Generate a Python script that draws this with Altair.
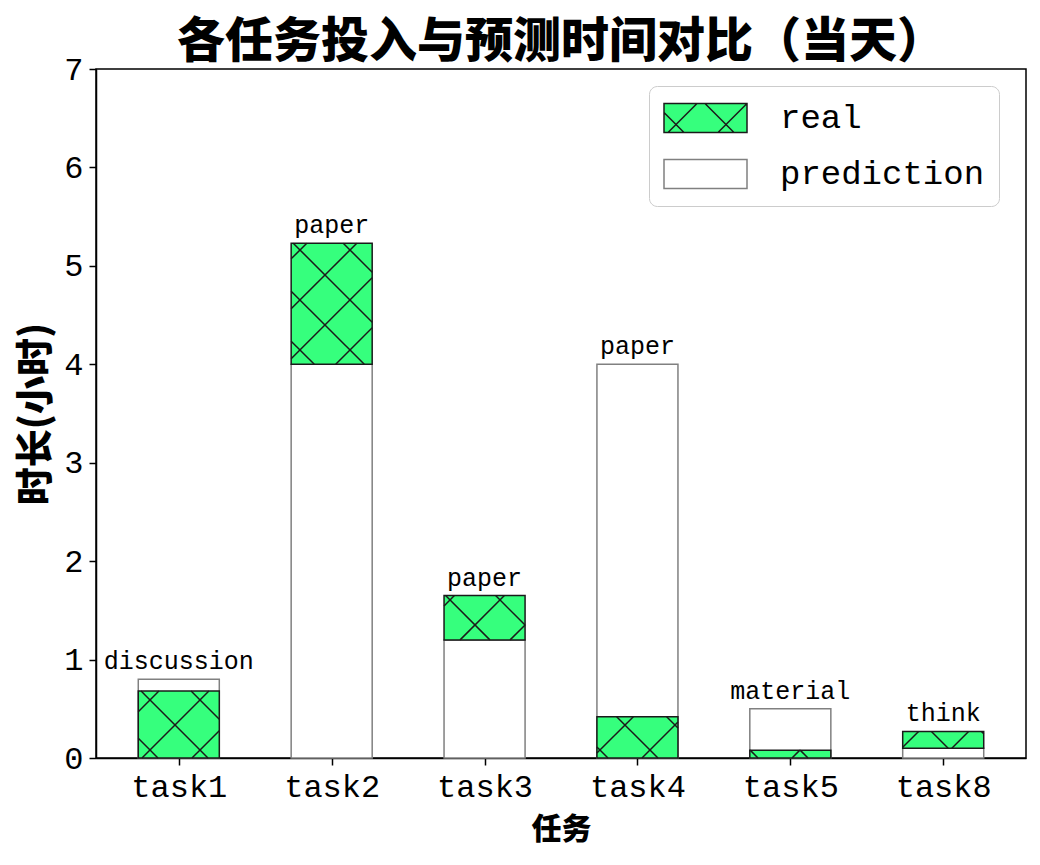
import math
import altair as alt
import pandas as pd

# ---------------- data ----------------
tasks = ["task1", "task2", "task3", "task4", "task5", "task8"]
real = [0.68, 5.23, 1.65, 0.42, 0.08, 0.27]
prediction = [0.80, 4.00, 1.20, 4.00, 0.50, 0.10]
kinds = ["discussion", "paper", "paper", "paper", "material", "think"]
y_ticks = [0, 1, 2, 3, 4, 5, 6, 7]

# ---------------- layout / style ----------------
W, H = 930, 689
PAD_L, PAD_T, PAD_R, PAD_B = 96, 69, 14, 107
BAR_W = 0.53
XMIN, XMAX = -0.5415, len(tasks) - 1 + 0.5415
YMAX = 7
GREEN = "#36ff7d"
DARK = "#1a1a1a"
GREY = "#808080"
HATCH = 50  # pixel period of the cross hatch
MONO = "Liberation Mono"
CJK = "Noto Sans CJK SC"

idx = list(range(len(tasks)))

pred_df = pd.DataFrame({
    "task": tasks,
    "x": [i - BAR_W / 2 for i in idx],
    "x2": [i + BAR_W / 2 for i in idx],
    "lo": [0.0] * len(tasks),
    "hi": prediction,
    "series": "prediction",
})
real_lo = [p if r > p else 0.0 for r, p in zip(real, prediction)]
real_df = pd.DataFrame({
    "task": tasks,
    "x": [i - BAR_W / 2 for i in idx],
    "x2": [i + BAR_W / 2 for i in idx],
    "lo": real_lo,
    "hi": real,
    "series": "real",
})
label_df = pd.DataFrame({
    "x": idx,
    "y": [max(r, p) for r, p in zip(real, prediction)],
    "kind": kinds,
})


# ---------- cross hatch for the "real" bars (derived from the data) ----------
def to_px(x, y):
    return (PAD_L + (x - XMIN) / (XMAX - XMIN) * W, PAD_T + H - y / YMAX * H)


def to_data(px, py):
    return (XMIN + (px - PAD_L) / W * (XMAX - XMIN), (PAD_T + H - py) / H * YMAX)


def hatch_segments(x0, y0, x1, y1, p=HATCH):
    segs = []
    for k in range(math.ceil((x0 - y1) / p), math.floor((x1 - y0) / p) + 1):
        c = k * p
        xa, xb = max(x0, y0 + c), min(x1, y1 + c)
        if xb - xa > 0.5:
            segs.append((xa, xa - c, xb, xb - c))
    for k in range(math.ceil((x0 + y0) / p), math.floor((x1 + y1) / p) + 1):
        c = k * p
        xa, xb = max(x0, c - y1), min(x1, c - y0)
        if xb - xa > 0.5:
            segs.append((xa, c - xa, xb, c - xb))
    return segs


hatch_rows = []
for _, row in real_df.iterrows():
    ax, ay = to_px(row["x"], row["hi"])
    bx, by = to_px(row["x2"], row["lo"])
    for (sx, sy, ex, ey) in hatch_segments(ax, ay, bx, by):
        dx0, dy0 = to_data(sx, sy)
        dx1, dy1 = to_data(ex, ey)
        hatch_rows.append({"hx": dx0, "hy": dy0, "hx2": dx1, "hy2": dy1})
hatch_df = pd.DataFrame(hatch_rows)

# legend symbols (custom paths, normalised to [-1, 1])
SYM_W, SYM_H = 83, 29
SYM_LEFT, SYM_TOP = 663, 104
r = SYM_W / 2
hh = SYM_H / 2 / r
rect_path = f"M-1,{-hh:.4f}H1V{hh:.4f}H-1Z"
cx, cy = SYM_LEFT + SYM_W / 2, SYM_TOP + SYM_H / 2
real_path = rect_path
for (sx, sy, ex, ey) in hatch_segments(SYM_LEFT, SYM_TOP, SYM_LEFT + SYM_W, SYM_TOP + SYM_H):
    real_path += f"M{(sx - cx) / r:.4f},{(sy - cy) / r:.4f}L{(ex - cx) / r:.4f},{(ey - cy) / r:.4f}"

series_domain = ["real", "prediction"]
fill_scale = alt.Scale(domain=series_domain, range=[GREEN, "white"])
stroke_scale = alt.Scale(domain=series_domain, range=[DARK, GREY])
shape_scale = alt.Scale(domain=series_domain, range=[real_path, rect_path])

xscale = alt.Scale(domain=[XMIN, XMAX], nice=False, zero=False)
yscale = alt.Scale(domain=[0, YMAX], nice=False)

label_expr = "[" + ",".join(f"'{t}'" for t in tasks) + "][datum.value]"

x_axis = alt.Axis(
    values=idx, labelExpr=label_expr, title="任务", grid=False,
    labelFont=MONO, labelFontSize=32, labelColor="black", labelPadding=6,
    tickSize=7, tickWidth=1.5, tickColor="black",
    domainColor="black", domainWidth=1.5,
    titleFont=CJK, titleFontSize=30, titleFontWeight=900, titleColor="black",
    titlePadding=12,
)
y_axis = alt.Axis(
    values=y_ticks, format="d", title="时长(小时)", grid=False,
    labelFont=MONO, labelFontSize=32, labelColor="black", labelPadding=6,
    tickSize=7, tickWidth=1.5, tickColor="black",
    domainColor="black", domainWidth=1.5,
    titleFont=CJK, titleFontSize=38, titleFontWeight=900, titleColor="black",
    titlePadding=8,
)

legend = alt.Legend(
    title=None, orient="none", legendX=553, legendY=17,
    symbolSize=SYM_W * SYM_W, symbolStrokeWidth=1.5, symbolOpacity=1,
    labelFont=MONO, labelFontSize=34, labelColor="black", labelOffset=32,
    labelLimit=0, clipHeight=36,
    padding=14, rowPadding=20, fillColor="white", strokeColor="#cccccc",
    cornerRadius=8,
)

pred_bars = alt.Chart(pred_df).mark_rect(strokeWidth=1.5).encode(
    x=alt.X("x:Q", scale=xscale, axis=x_axis),
    x2="x2:Q",
    y=alt.Y("lo:Q", scale=yscale, axis=y_axis),
    y2="hi:Q",
    fill=alt.Fill("series:N", scale=fill_scale, legend=legend),
    stroke=alt.Stroke("series:N", scale=stroke_scale, legend=legend),
)

real_bars = alt.Chart(real_df).mark_rect(strokeWidth=1.5).encode(
    x="x:Q", x2="x2:Q", y="lo:Q", y2="hi:Q",
    fill=alt.Fill("series:N", scale=fill_scale, legend=legend),
    stroke=alt.Stroke("series:N", scale=stroke_scale, legend=legend),
)

hatch = alt.Chart(hatch_df).mark_rule(color=DARK, strokeWidth=1.5).encode(
    x="hx:Q", y="hy:Q", x2="hx2:Q", y2="hy2:Q",
)

legend_pts = alt.Chart(pd.DataFrame({"series": series_domain, "x": [0, 0], "y": [0, 0]})).mark_point(
    opacity=0, strokeWidth=1.5, filled=True
).encode(
    x="x:Q", y="y:Q",
    shape=alt.Shape("series:N", scale=shape_scale, legend=legend),
    fill=alt.Fill("series:N", scale=fill_scale, legend=legend),
    stroke=alt.Stroke("series:N", scale=stroke_scale, legend=legend),
)

labels = alt.Chart(label_df).mark_text(
    font=MONO, fontSize=25, color="black", baseline="alphabetic", align="center", dy=-10
).encode(x="x:Q", y="y:Q", text="kind:N")

chart = alt.layer(pred_bars, real_bars, hatch, labels, legend_pts).properties(
    width=W, height=H,
    autosize=alt.AutoSizeParams(type="none"),
    padding={"left": PAD_L, "top": PAD_T, "right": PAD_R, "bottom": PAD_B},
    title=alt.TitleParams(
        "各任务投入与预测时间对比（当天）", font=CJK, fontSize=48, fontWeight=900,
        color="black", anchor="middle", offset=10, dy=24,
    ),
).configure(background="white").configure_view(stroke="black", strokeWidth=1.5)

chart.save("out.html", embed_options={"renderer": "svg", "actions": False})
